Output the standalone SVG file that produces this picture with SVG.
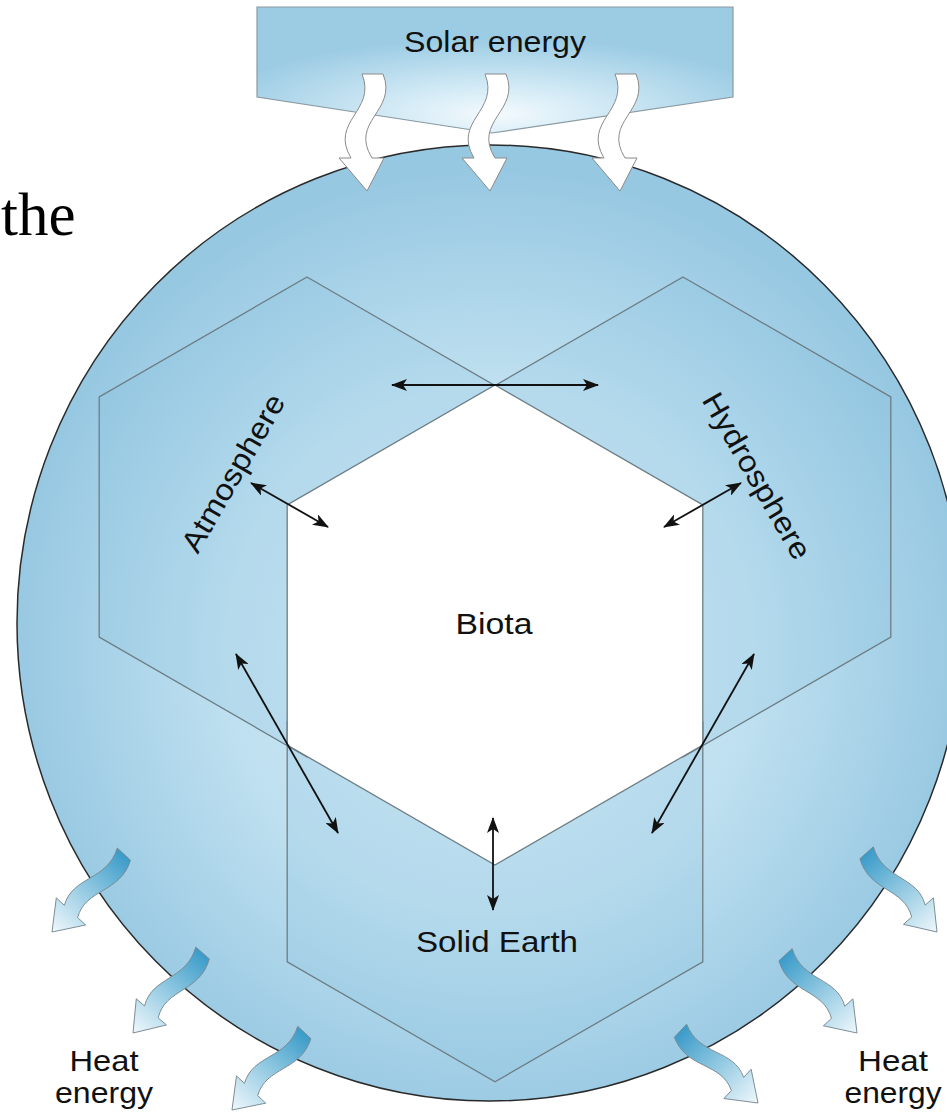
<svg xmlns="http://www.w3.org/2000/svg" xmlns:xlink="http://www.w3.org/1999/xlink" width="947" height="1115" viewBox="0 0 947 1115">
<defs>
<style>
.lbl{font-family:"Liberation Sans",Arial,sans-serif;font-size:30px;fill:#111;}
.hex{stroke:#6d7d85;stroke-width:1.3;fill:#7db8d8;fill-opacity:0.16;}
.conn{stroke:#111;stroke-width:1.8;fill:none;marker-start:url(#ah);marker-end:url(#ah);}
.solar{fill:#ffffff;stroke:#8a8a8a;stroke-width:1;}
.heat{fill:url(#heatG);stroke:#7a8a92;stroke-width:0.9;}
</style>
<radialGradient id="globeG" gradientUnits="userSpaceOnUse" cx="490" cy="650" r="480">
<stop offset="0" stop-color="#d9eef8"/>
<stop offset="0.55" stop-color="#bfe0f0"/>
<stop offset="1" stop-color="#97c8e2"/>
</radialGradient>
<radialGradient id="boxG" cx="0.5" cy="0.85" r="0.6">
<stop offset="0" stop-color="#f4fafd"/>
<stop offset="0.35" stop-color="#d4ebf6"/>
<stop offset="1" stop-color="#9ccce4"/>
</radialGradient>
<linearGradient id="heatG" x1="0" y1="0" x2="0" y2="1">
<stop offset="0" stop-color="#3a9bc9"/>
<stop offset="0.45" stop-color="#8cc6e0"/>
<stop offset="1" stop-color="#f0f8fc"/>
</linearGradient>
<marker id="ah" viewBox="0 0 16 12" refX="15" refY="6" markerWidth="16" markerHeight="12" markerUnits="userSpaceOnUse" orient="auto-start-reverse">
<path d="M0,0 L16,6 L0,12 L4,6 Z" fill="#111"/>
</marker>
<path id="solarArrow" d="M-5,-117 C10,-80 -38,-70 -16,-33 L-28,-33 L0,0 L17,-33 L5,-33 C-18,-70 31,-80 16,-117 Z"/>
<path id="heatArrow" d="M-9,-106 C6,-75 -23,-55 -9,-28 L-20,-28 L0,0 L20,-28 L9,-28 C-5,-55 24,-75 9,-106 Z"/>
</defs>

<rect width="947" height="1115" fill="#ffffff"/>

<text x="1" y="235" style="font-family:'Liberation Serif','Times New Roman',serif;font-size:61px;fill:#000;">the</text>

<g id="earth-system">
<ellipse cx="490" cy="623" rx="473" ry="478" fill="url(#globeG)" stroke="#2a2a2a" stroke-width="1.5"/>
</g>

<g id="atmosphere">
<polygon class="hex" points="307,277 514.8,397 514.8,637 307,757 99.2,637 99.2,397"/>
<text class="lbl" transform="translate(242,478) rotate(-60)" text-anchor="middle" textLength="177" lengthAdjust="spacingAndGlyphs">Atmosphere</text>
</g>

<g id="hydrosphere">
<polygon class="hex" points="683,277 890.8,397 890.8,637 683,757 475.2,637 475.2,397"/>
<text class="lbl" transform="translate(748,481) rotate(60)" text-anchor="middle" textLength="187" lengthAdjust="spacingAndGlyphs">Hydrosphere</text>
</g>

<g id="solid-earth">
<polygon class="hex" points="495,601.8 702.8,721.8 702.8,961.8 495,1081.8 287.2,961.8 287.2,721.8"/>
<text class="lbl" x="497" y="952" text-anchor="middle" textLength="162" lengthAdjust="spacingAndGlyphs">Solid Earth</text>
</g>

<g id="biota">
<polygon points="495,385 702.8,505 702.8,745 495,865 287.2,745 287.2,505" fill="#ffffff" stroke="#6d7d85" stroke-width="1.3"/>
<text class="lbl" x="494" y="634" text-anchor="middle" textLength="77" lengthAdjust="spacingAndGlyphs">Biota</text>
</g>

<g id="connectors">
<line class="conn" x1="392" y1="385" x2="598" y2="385"/>
<line class="conn" x1="251" y1="483" x2="328" y2="527"/>
<line class="conn" x1="741" y1="483" x2="664" y2="527"/>
<line class="conn" x1="236" y1="654" x2="338" y2="833"/>
<line class="conn" x1="754" y1="654" x2="652" y2="833"/>
<line class="conn" x1="493" y1="818" x2="493" y2="910"/>
</g>

<g id="solar-energy">
<polygon points="257,7 733,7 733,97 492,133 257,97" fill="url(#boxG)" stroke="#8a9aa2" stroke-width="1.2"/>
<text class="lbl" x="495" y="52" text-anchor="middle" textLength="182" lengthAdjust="spacingAndGlyphs">Solar energy</text>
<use xlink:href="#solarArrow" class="solar" transform="translate(367,191)"/>
<use xlink:href="#solarArrow" class="solar" transform="translate(490,191)"/>
<use xlink:href="#solarArrow" class="solar" transform="translate(620,191)"/>
</g>

<g id="heat-energy-left">
<use xlink:href="#heatArrow" class="heat" transform="translate(52,932) rotate(42.7)"/>
<use xlink:href="#heatArrow" class="heat" transform="translate(133,1033) rotate(41)"/>
<use xlink:href="#heatArrow" class="heat" transform="translate(232,1110) rotate(43)"/>
<text class="lbl" x="104" y="1071" text-anchor="middle" textLength="69" lengthAdjust="spacingAndGlyphs">Heat</text>
<text class="lbl" x="104" y="1103" text-anchor="middle" textLength="98" lengthAdjust="spacingAndGlyphs">energy</text>
</g>

<g id="heat-energy-right">
<use xlink:href="#heatArrow" class="heat" transform="translate(937,932) rotate(-41.6) scale(-1,1)"/>
<use xlink:href="#heatArrow" class="heat" transform="translate(857,1033) rotate(-42.4) scale(-1,1)"/>
<use xlink:href="#heatArrow" class="heat" transform="translate(758,1103) rotate(-47) scale(-1,1)"/>
<text class="lbl" x="893" y="1071" text-anchor="middle" textLength="70" lengthAdjust="spacingAndGlyphs">Heat</text>
<text class="lbl" x="893" y="1103" text-anchor="middle" textLength="97" lengthAdjust="spacingAndGlyphs">energy</text>
</g>
</svg>
